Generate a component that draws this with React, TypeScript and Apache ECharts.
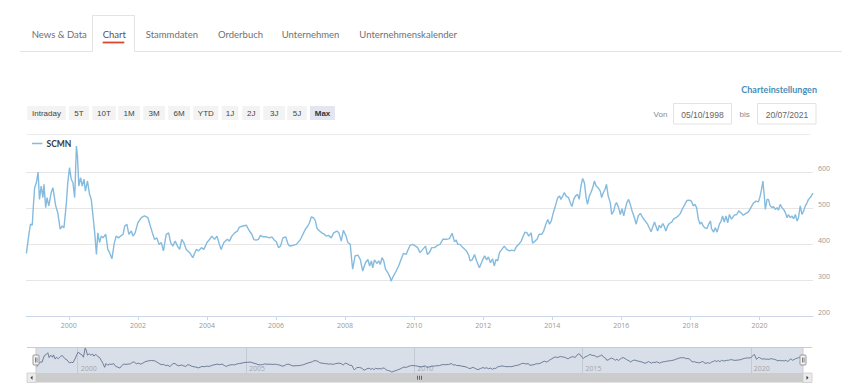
import React, { useEffect, useRef } from 'react';
import * as echarts from 'echarts';

// ---------- texts ----------
const TABS = ['News & Data', 'Chart', 'Stammdaten', 'Orderbuch', 'Unternehmen', 'Unternehmenskalender'];
const ACTIVE_TAB = 1;
const PERIODS = ['Intraday', '5T', '10T', '1M', '3M', '6M', 'YTD', '1J', '2J', '3J', '5J', 'Max'];
const ACTIVE_PERIOD = 11;
const SETTINGS_LABEL = 'Charteinstellungen';
const FROM_LABEL = 'Von';
const TO_LABEL = 'bis';
const DATE_FROM = '05/10/1998';
const DATE_TO = '20/07/2021';
const SERIES_NAME = 'SCMN';

// ---------- axes ----------
const X_MIN = 1998.76; // 05/10/1998
const X_MAX = 2021.55; // 20/07/2021
const YEAR_TICKS = [2000, 2002, 2004, 2006, 2008, 2010, 2012, 2014, 2016, 2018, 2020];
const NAV_TICKS = [2000, 2005, 2010, 2015, 2020];
const Y_MIN = 200;
const Y_MAX = 700;
const Y_STEP = 100;

// ---------- data (decimal year, price) ----------
const YEARS = [
  1998.77, 1998.85, 1998.89, 1998.94, 1998.98, 1999.01, 1999.06, 1999.11, 1999.15, 1999.2,
  1999.25, 1999.28, 1999.33, 1999.37, 1999.42, 1999.49, 1999.54, 1999.62, 1999.68, 1999.75,
  1999.81, 1999.86, 1999.93, 1999.97, 2000.02, 2000.07, 2000.12, 2000.17, 2000.22, 2000.25,
  2000.29, 2000.34, 2000.39, 2000.44, 2000.48, 2000.54, 2000.6, 2000.65, 2000.7, 2000.75,
  2000.8, 2000.84, 2000.89, 2000.94, 2000.99, 2001.07, 2001.13, 2001.18, 2001.25, 2001.31,
  2001.37, 2001.44, 2001.5, 2001.57, 2001.62, 2001.68, 2001.74, 2001.81, 2001.86, 2001.92,
  2002.0, 2002.1, 2002.19, 2002.29, 2002.36, 2002.42, 2002.48, 2002.55, 2002.61, 2002.68,
  2002.74, 2002.82, 2002.89, 2002.95, 2003.01, 2003.08, 2003.15, 2003.21, 2003.27, 2003.33,
  2003.4, 2003.5, 2003.59, 2003.69, 2003.76, 2003.84, 2003.91, 2004.0, 2004.08, 2004.14,
  2004.22, 2004.29, 2004.36, 2004.41, 2004.49, 2004.59, 2004.65, 2004.72, 2004.8, 2004.88,
  2004.94, 2005.04, 2005.14, 2005.18, 2005.23, 2005.3, 2005.36, 2005.43, 2005.49, 2005.55,
  2005.62, 2005.72, 2005.81, 2005.88, 2005.94, 2006.01, 2006.07, 2006.13, 2006.2, 2006.28,
  2006.34, 2006.39, 2006.49, 2006.59, 2006.65, 2006.71, 2006.78, 2006.85, 2006.92, 2006.97,
  2007.02, 2007.09, 2007.14, 2007.19, 2007.26, 2007.33, 2007.4, 2007.45, 2007.52, 2007.6,
  2007.67, 2007.76, 2007.82, 2007.89, 2007.95, 2008.03, 2008.08, 2008.15, 2008.19, 2008.22,
  2008.29, 2008.37, 2008.44, 2008.51, 2008.59, 2008.66, 2008.71, 2008.76, 2008.8, 2008.85,
  2008.92, 2008.98, 2009.02, 2009.07, 2009.12, 2009.17, 2009.24, 2009.31, 2009.33, 2009.4,
  2009.48, 2009.55, 2009.62, 2009.69, 2009.77, 2009.81, 2009.88, 2009.96, 2010.04, 2010.1,
  2010.17, 2010.25, 2010.33, 2010.38, 2010.44, 2010.51, 2010.59, 2010.67, 2010.75, 2010.83,
  2010.93, 2011.02, 2011.1, 2011.17, 2011.22, 2011.26, 2011.33, 2011.41, 2011.51, 2011.58,
  2011.62, 2011.68, 2011.75, 2011.81, 2011.89, 2011.97, 2012.04, 2012.1, 2012.15, 2012.21,
  2012.27, 2012.32, 2012.37, 2012.42, 2012.47, 2012.54, 2012.61, 2012.68, 2012.76, 2012.82,
  2012.9, 2012.97, 2013.03, 2013.1, 2013.16, 2013.21, 2013.27, 2013.32, 2013.39, 2013.43,
  2013.5, 2013.56, 2013.62, 2013.69, 2013.75, 2013.82, 2013.87, 2013.92, 2013.97, 2014.03,
  2014.09, 2014.16, 2014.21, 2014.25, 2014.3, 2014.35, 2014.4, 2014.47, 2014.52, 2014.57,
  2014.62, 2014.67, 2014.73, 2014.78, 2014.83, 2014.88, 2014.93, 2014.98, 2015.02, 2015.07,
  2015.12, 2015.17, 2015.22, 2015.27, 2015.33, 2015.39, 2015.43, 2015.48, 2015.53, 2015.57,
  2015.62, 2015.68, 2015.72, 2015.78, 2015.82, 2015.86, 2015.92, 2015.97, 2016.02, 2016.07,
  2016.11, 2016.16, 2016.21, 2016.26, 2016.31, 2016.38, 2016.43, 2016.49, 2016.55, 2016.62,
  2016.76, 2016.86, 2016.96, 2017.0, 2017.05, 2017.1, 2017.15, 2017.2, 2017.24, 2017.29,
  2017.34, 2017.39, 2017.46, 2017.51, 2017.58, 2017.65, 2017.71, 2017.77, 2017.84, 2017.9,
  2017.97, 2018.03, 2018.08, 2018.13, 2018.18, 2018.23, 2018.28, 2018.32, 2018.37, 2018.42,
  2018.48, 2018.53, 2018.58, 2018.61, 2018.67, 2018.72, 2018.77, 2018.84, 2018.89, 2018.93,
  2018.98, 2019.03, 2019.08, 2019.13, 2019.19, 2019.27, 2019.34, 2019.4, 2019.46, 2019.53,
  2019.61, 2019.68, 2019.75, 2019.82, 2019.9, 2019.97, 2020.02, 2020.06, 2020.1, 2020.14,
  2020.17, 2020.22, 2020.26, 2020.31, 2020.36, 2020.41, 2020.46, 2020.51, 2020.55, 2020.6,
  2020.65, 2020.7, 2020.75, 2020.8, 2020.84, 2020.89, 2020.94, 2020.99, 2021.04, 2021.09,
  2021.13, 2021.18, 2021.23, 2021.28, 2021.33, 2021.38, 2021.42, 2021.47, 2021.55,
];
const PRICES = [
  374, 431, 455, 452, 515, 556, 570, 600, 524, 561,
  529, 566, 501, 529, 506, 543, 556, 506, 487, 441,
  450, 445, 515, 570, 612, 580, 570, 529, 672, 644,
  561, 584, 561, 580, 547, 575, 538, 524, 478, 431,
  371, 431, 404, 422, 417, 427, 385, 376, 359, 399,
  422, 417, 422, 427, 450, 455, 427, 436, 422, 431,
  459, 473, 478, 473, 450, 431, 413, 417, 399, 404,
  381, 427, 431, 404, 394, 408, 394, 385, 413, 404,
  385, 376, 362, 385, 381, 390, 385, 404, 413, 422,
  413, 422, 399, 385, 404, 413, 408, 422, 431, 436,
  447, 450, 452, 445, 436, 427, 412, 411, 413, 424,
  420, 420, 417, 420, 412, 406, 390, 394, 417, 420,
  402, 394, 396, 399, 406, 413, 427, 441, 450, 459,
  475, 473, 464, 443, 436, 431, 427, 422, 424, 417,
  431, 436, 431, 408, 438, 422, 404, 399, 357, 330,
  367, 369, 357, 325, 348, 357, 339, 353, 334, 356,
  346, 353, 343, 362, 353, 330, 320, 306, 297, 311,
  325, 339, 357, 374, 371, 381, 396, 399, 394, 390,
  376, 385, 394, 371, 376, 390, 390, 396, 399, 413,
  413, 415, 430, 406, 411, 399, 399, 390, 381, 369,
  353, 356, 371, 353, 334, 353, 367, 356, 364, 348,
  359, 339, 357, 353, 376, 385, 394, 385, 381, 383,
  381, 394, 399, 408, 422, 433, 431, 422, 431, 402,
  408, 413, 427, 427, 436, 457, 468, 455, 464, 487,
  506, 529, 533, 524, 533, 543, 533, 529, 515, 504,
  524, 533, 538, 524, 561, 582, 570, 529, 510, 533,
  543, 556, 575, 561, 556, 547, 529, 543, 552, 566,
  533, 515, 482, 492, 508, 515, 501, 482, 498, 478,
  496, 515, 524, 510, 492, 473, 455, 478, 485, 473,
  455, 434, 461, 450, 436, 452, 445, 457, 450, 436,
  450, 457, 461, 469, 473, 478, 485, 498, 510, 521,
  522, 519, 506, 510, 501, 469, 455, 461, 450, 445,
  443, 455, 464, 443, 433, 445, 433, 455, 464, 478,
  461, 478, 459, 482, 469, 480, 482, 492, 487, 480,
  485, 489, 501, 513, 519, 517, 533, 552, 575, 533,
  496, 524, 524, 506, 501, 504, 496, 501, 494, 510,
  501, 496, 487, 473, 482, 473, 478, 470, 482, 464,
  473, 506, 482, 492, 506, 515, 524, 529, 541,
];

// ---------- layout (pixels) ----------
const TAB_X = [31.7, 102.7, 145.7, 218, 281.7, 359.3];
const BUTTON_BOXES = [
  [27.3, 65.7], [69, 89], [92.3, 115.7], [118.3, 140], [143.3, 165], [168.3, 190],
  [193.3, 218.3], [221.7, 238.3], [242.3, 260], [263.3, 285], [287.3, 306.7], [310, 335],
];
const MAIN = { left: 26, top: 136, width: 787, height: 180 };
const NAV = { left: 36, top: 347, width: 767, height: 26 };

const LINE_COLOR = '#85bbde';
const GRID_COLOR = '#e6e6e6';

function buildGraphics() {
  const els: any[] = [];
  const tabFont = '9.5px Lato';
  // tab bar bottom line
  els.push({ type: 'line', shape: { x1: 20, y1: 51.5, x2: 92.5, y2: 51.5 }, style: { stroke: '#e3e3e3', lineWidth: 1 } });
  els.push({ type: 'line', shape: { x1: 134.5, y1: 51.5, x2: 842, y2: 51.5 }, style: { stroke: '#e3e3e3', lineWidth: 1 } });
  // active tab outline
  els.push({
    type: 'polyline',
    shape: { points: [[92.5, 51.5], [92.5, 15.5], [134.5, 15.5], [134.5, 51.5]] },
    style: { stroke: '#e3e3e3', lineWidth: 1, fill: null },
  });
  TABS.forEach((t, i) => {
    els.push({
      type: 'text', x: TAB_X[i], y: 34,
      style: { text: t, fill: i === ACTIVE_TAB ? '#555' : '#707070', font: tabFont, textAlign: 'left', textVerticalAlign: 'middle' },
    });
  });
  els.push({ type: 'rect', shape: { x: 102.7, y: 41.6, width: 21.6, height: 1.8 }, style: { fill: '#e0452b' } });

  // settings link
  els.push({
    type: 'text', x: 817, y: 89,
    style: { text: SETTINGS_LABEL, fill: '#4b8db8', font: 'bold 9px Lato', textAlign: 'right', textVerticalAlign: 'middle' },
  });

  // period buttons
  PERIODS.forEach((p, i) => {
    const [x0, x1] = BUTTON_BOXES[i];
    const active = i === ACTIVE_PERIOD;
    els.push({ type: 'rect', shape: { x: x0, y: 106, width: x1 - x0, height: 14 }, style: { fill: active ? '#e3e6ee' : '#f3f3f3' } });
    els.push({
      type: 'text', x: (x0 + x1) / 2, y: 113.3,
      style: { text: p, fill: active ? '#333' : '#444', font: (active ? 'bold ' : '') + '8px "Liberation Sans"', textAlign: 'center', textVerticalAlign: 'middle' },
    });
  });

  // date range inputs
  els.push({ type: 'text', x: 660.5, y: 114.5, style: { text: FROM_LABEL, fill: '#8a8a8a', font: '8px "Liberation Sans"', textAlign: 'center', textVerticalAlign: 'middle' } });
  els.push({ type: 'rect', shape: { x: 673.5, y: 103.5, width: 58, height: 20.5 }, style: { fill: '#fff', stroke: '#e3e3e3', lineWidth: 1 } });
  els.push({ type: 'text', x: 702.5, y: 114.5, style: { text: DATE_FROM, fill: '#666', font: '8.5px "Liberation Sans"', textAlign: 'center', textVerticalAlign: 'middle' } });
  els.push({ type: 'text', x: 744.7, y: 114.5, style: { text: TO_LABEL, fill: '#8a8a8a', font: '8px "Liberation Sans"', textAlign: 'center', textVerticalAlign: 'middle' } });
  els.push({ type: 'rect', shape: { x: 757.5, y: 103.5, width: 58.5, height: 20.5 }, style: { fill: '#fff', stroke: '#e3e3e3', lineWidth: 1 } });
  els.push({ type: 'text', x: 787, y: 114.5, style: { text: DATE_TO, fill: '#666', font: '8.5px "Liberation Sans"', textAlign: 'center', textVerticalAlign: 'middle' } });

  // separator
  els.push({ type: 'line', shape: { x1: 27, y1: 134.5, x2: 810, y2: 134.5 }, style: { stroke: '#ececec', lineWidth: 1 } });

  // navigator outline
  const nl = NAV.left, nr = NAV.left + NAV.width, nt = NAV.top, nb = NAV.top + NAV.height;
  els.push({ type: 'line', z: 10, shape: { x1: 27, y1: nt + 0.5, x2: 812, y2: nt + 0.5 }, style: { stroke: '#cccccc', lineWidth: 1 } });
  els.push({ type: 'rect', z: 10, shape: { x: nl, y: nt + 0.5, width: nr - nl, height: NAV.height }, style: { fill: null, stroke: '#cccccc', lineWidth: 1 } });
  // handles
  [nl, nr].forEach((hx) => {
    els.push({ type: 'rect', z: 11, shape: { x: hx - 3, y: 355, width: 6, height: 10, r: 1 }, style: { fill: '#f2f2f2', stroke: '#999', lineWidth: 1 } });
    els.push({ type: 'line', z: 12, shape: { x1: hx - 0.5, y1: 357.5, x2: hx - 0.5, y2: 362.5 }, style: { stroke: '#333', lineWidth: 0.6 } });
    els.push({ type: 'line', z: 12, shape: { x1: hx + 1, y1: 357.5, x2: hx + 1, y2: 362.5 }, style: { stroke: '#333', lineWidth: 0.6 } });
  });

  // scrollbar
  const sy = nb, sh = 9.5;
  els.push({ type: 'rect', shape: { x: 27, y: sy, width: 785, height: sh }, style: { fill: '#f2f2f2' } });
  els.push({ type: 'rect', shape: { x: nl, y: sy, width: nr - nl, height: sh }, style: { fill: '#cccccc' } });
  els.push({ type: 'rect', shape: { x: 27, y: sy, width: nl - 27, height: sh }, style: { fill: '#ebebeb', stroke: '#cccccc', lineWidth: 0.8 } });
  els.push({ type: 'rect', shape: { x: nr, y: sy, width: 812 - nr, height: sh }, style: { fill: '#ebebeb', stroke: '#cccccc', lineWidth: 0.8 } });
  const cy = sy + sh / 2;
  els.push({ type: 'polygon', shape: { points: [[30.5, cy], [32.5, cy - 2], [32.5, cy + 2]] }, style: { fill: '#333' } });
  els.push({ type: 'polygon', shape: { points: [[808.5, cy], [806.5, cy - 2], [806.5, cy + 2]] }, style: { fill: '#333' } });
  const gx = (nl + nr) / 2;
  [-2, 0, 2].forEach((d) => {
    els.push({ type: 'line', shape: { x1: gx + d, y1: cy - 2, x2: gx + d, y2: cy + 2 }, style: { stroke: '#333', lineWidth: 0.7 } });
  });
  return els.map((e) => ({ silent: true, ...e }));
}

export default function App() {
  const ref = useRef<HTMLDivElement>(null);
  useEffect(() => {
    const chart = echarts.init(ref.current!, null, { renderer: 'svg', width: 860, height: 390 });
    const points = YEARS.map((y, i) => [y, PRICES[i]]);
    const ySteps = Math.round((Y_MAX - Y_MIN) / Y_STEP);
    const gridColors = Array.from({ length: ySteps + 1 }, (_, i) => (i === ySteps ? 'rgba(0,0,0,0)' : GRID_COLOR));
    const axisFont = 'Open Sans';
    chart.setOption({
      animation: false,
      backgroundColor: '#fff',
      textStyle: { fontFamily: axisFont },
      legend: {
        data: [SERIES_NAME],
        left: 32,
        top: 139,
        padding: 0,
        icon: 'rect',
        itemWidth: 10.5,
        itemHeight: 1.5,
        itemGap: 4,
        selectedMode: false,
        textStyle: { fontFamily: 'Lato', fontWeight: 'bold', fontSize: 8.5, color: '#3a3a3a', padding: [0, 0, 0, -1] },
      },
      grid: [
        { ...MAIN, containLabel: false, outerBoundsMode: 'none' },
        { ...NAV, containLabel: false, outerBoundsMode: 'none', show: true, backgroundColor: '#d9dfe9', borderWidth: 0 },
      ],
      xAxis: [
        {
          type: 'value', gridIndex: 0, min: X_MIN, max: X_MAX,
          axisLine: { show: true, lineStyle: { color: '#ccd6eb', width: 1 } },
          axisTick: { show: true, length: 4, customValues: YEAR_TICKS, lineStyle: { color: '#ccd6eb' } },
          axisLabel: { customValues: YEAR_TICKS, formatter: (v: number) => String(Math.round(v)), color: '#999', fontSize: 7, margin: 6 },
          splitLine: { show: false },
        },
        {
          type: 'value', gridIndex: 1, min: X_MIN, max: X_MAX,
          axisLine: { show: false },
          axisTick: { show: false, customValues: NAV_TICKS },
          axisLabel: {
            customValues: NAV_TICKS, inside: true, align: 'left', margin: 1, padding: [0, 0, 0, 3],
            formatter: (v: number) => String(Math.round(v)), color: '#a6a6a6', fontSize: 7,
          },
          splitLine: { show: true, lineStyle: { color: '#c3cad6', width: 1 } },
        },
      ],
      yAxis: [
        {
          type: 'value', gridIndex: 0, position: 'right', min: Y_MIN, max: Y_MAX, interval: Y_STEP,
          axisLine: { show: false }, axisTick: { show: false },
          axisLabel: {
            formatter: (v: number) => (v >= Y_MAX ? '' : String(v)),
            color: '#999', fontSize: 7, margin: 5, verticalAlign: 'bottom',
          },
          splitLine: { show: true, lineStyle: { color: gridColors, width: 1 } },
        },
        {
          type: 'value', gridIndex: 1, min: 282, max: 690,
          axisLine: { show: false }, axisTick: { show: false }, axisLabel: { show: false }, splitLine: { show: false },
        },
      ],
      series: [
        {
          name: SERIES_NAME, type: 'line', xAxisIndex: 0, yAxisIndex: 0, data: points,
          symbol: 'none', showSymbol: false, lineStyle: { color: LINE_COLOR, width: 1.4 }, itemStyle: { color: LINE_COLOR },
        },
        {
          name: 'navigator', type: 'line', xAxisIndex: 1, yAxisIndex: 1, data: points,
          symbol: 'none', showSymbol: false, lineStyle: { color: '#627390', width: 0.9 }, itemStyle: { color: '#627390' }, z: 3,
        },
      ],
      graphic: { elements: buildGraphics() },
    });
    return () => chart.dispose();
  }, []);
  return (
    <div
      ref={ref}
      style={{ position: 'fixed', left: 0, top: 0, width: 860, height: 390, background: '#fff' }}
    />
  );
}
